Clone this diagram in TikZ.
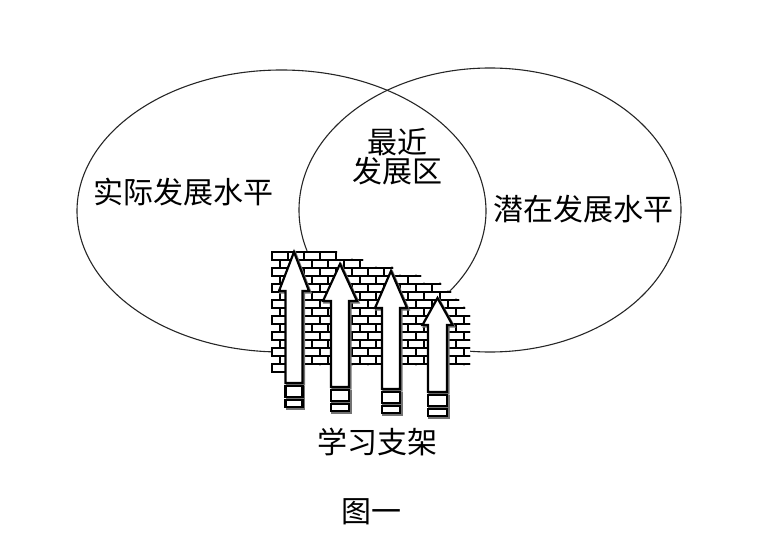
\documentclass[tikz,border=0pt]{standalone}
\usepackage{fontspec}
\newfontfamily\cjk{Noto Sans CJK SC}
\tikzset{
  zone/.style={draw=black!85,line width=1.1},
  brick/.style={draw=black,line width=1.9},
  scaffold/.style={draw=black,fill=white,line width=2.2,line join=miter,
    preaction={draw=black!55,line width=2.2,transform canvas={shift={(1.5pt,-1.5pt)}}}},
  label/.style={font=\cjk\fontsize{30}{30}\selectfont,inner sep=0pt,align=center}
}
\begin{document}
\begin{tikzpicture}[x=1pt,y=-1pt]
     \useasboundingbox (0,0) rectangle (768,534);

     % two levels
     \draw[zone] (281.5,211) ellipse [x radius=204.5,y radius=141];
     \draw[zone] (490,210) ellipse [x radius=191,y radius=142];

     \node[label] (actual) at (183,192) {实际发展水平};
     \node[label] (potential) at (583,209) {潜在发展水平};
     \node[label] (zpd) at (397,157) {最近\\[-1pt]发展区};

     % brick wall
     \begin{scope}
     \clip (271,375) -- (271,251) -- (337,251) -- (337,259) -- (363,259) -- (363,267)
       -- (393,267) -- (393,275) -- (421,275) -- (421,283) -- (441,283) -- (441,291)
       -- (451,291) -- (451,299) -- (459,299) -- (459,307) -- (465,307) -- (465,315)
       -- (470,315) -- (470,365) -- (290,365) -- (290,375) -- cycle;
     \fill[white] (250,240) rectangle (480,380);
     \foreach \r in {0,...,14}{
       \pgfmathsetmacro\yy{252+8*\r}
       \pgfmathsetmacro\xo{mod(\r,2)*8}
       \foreach \c in {0,...,13}
         \draw[brick] (256+\xo+16*\c,\yy) rectangle ++(16,8);
     }
     \end{scope}

     % scaffolding arrows
     \foreach \cx/\ty/\hy/\hw/\sw/\by in {294/252/291/15/8.5/383, 340/264/301/17/9/387,
                                          391/271/308/16/9/389, 437.5/298/325/15/9.5/392}{
       \draw[scaffold] (\cx,\ty) -- (\cx+\hw,\hy) -- (\cx+\sw,\hy) -- (\cx+\sw,\by)
         -- (\cx-\sw,\by) -- (\cx-\sw,\hy) -- (\cx-\hw,\hy) -- cycle;
       \draw[scaffold] (\cx-\sw,\by+3) rectangle (\cx+\sw,\by+14);
       \draw[scaffold] (\cx-\sw,\by+17) rectangle (\cx+\sw,\by+24);
     }

     \node[label] (scaffolding) at (377,442) {学习支架};
     \node[label] (caption) at (371,512) {图一};
\end{tikzpicture}
\end{document}
